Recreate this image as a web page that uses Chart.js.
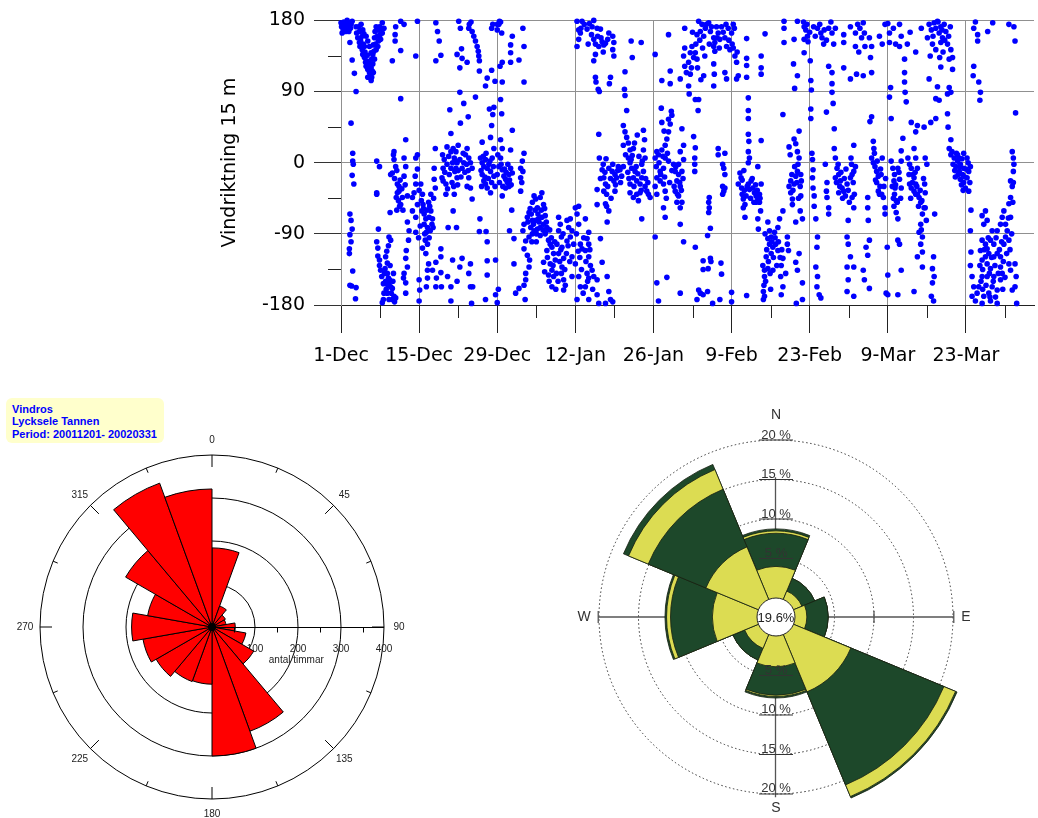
<!DOCTYPE html>
<html><head><meta charset="utf-8">
<script src="https://cdn.jsdelivr.net/npm/chart.js@4/dist/chart.umd.min.js"></script>
<style>
html,body{margin:0;padding:0;background:#fff;width:1038px;height:818px;overflow:hidden;}
.box{position:absolute;}
#info{position:absolute;left:6px;top:398px;width:152px;height:40px;padding:5px 0 0 6px;background:#ffffcc;border-radius:6px;font:bold 11px "Liberation Sans",Arial,sans-serif;line-height:12.4px;color:#0000ff;white-space:nowrap;}
</style></head><body>
<div class="box" style="left:0;top:0;width:1038px;height:390px"><canvas id="scatter"></canvas></div>
<div class="box" style="left:0;top:390px;width:432px;height:428px"><canvas id="rose"></canvas></div>
<div class="box" style="left:560px;top:400px;width:440px;height:418px"><canvas id="rose2"></canvas></div>
<div id="info">Vindros<br>Lycksele Tannen<br>Period: 20011201- 20020331</div>
<script>
// ---------- Top chart: wind direction time series (x = days after 1-Dec) ----------
const dateLabels = ['1-Dec','15-Dec','29-Dec','12-Jan','26-Jan','9-Feb','23-Feb','9-Mar','23-Mar'];
const dateTickDays = [0,14,28,42,56,70,84,98,112];
const minorTickDays = [7,21,35,49,63,77,91,105,119];
const dirTicks = [-180,-90,0,90,180];
const dirMinorTicks = [-135,-45,45,135];

const obsDec = [
[0,177],[0.3,175],[0.6,170],[0.9,177],[1.2,173],[1.5,177],[0.2,164],[0.8,166],[1.4,166],[1.8,175],[2.0,179],
[2.7,172],[2.8,164],[3.0,158],[3.3,152],[3.4,147],[3.8,143],[3.9,137],[4.2,133],[4.4,127],[4.5,122],[4.8,118],[5.1,114],[4.8,108],[5.4,104],[5.1,120],[4.6,129],[4.2,147],[3.8,160],[3.3,166],[3.2,172],[3.9,168],[4.5,160],[4.8,154],[5.1,147],[5.4,139],[5.5,131],[5.7,125],[5.4,120],[5.8,149],[6.0,158],[6.1,166],[6.3,172],[6.6,168],[6.9,172],[7.0,162],[6.7,154],[6.6,147],[7.4,177],[7.7,170],[7.4,164],[7.1,156],[6.3,143],[5.7,137],[6.0,131],[5.8,114],[5.5,108],
[1.6,152],[2.0,130],[2.4,113],[2.7,90],[1.8,50],[2.1,12],[2.1,2],[2.2,-2],[2.0,-16],[2.3,-27],
[1.6,-65],[1.8,-73],[2.0,-84],[1.6,-91],[1.8,-100],[1.5,-109],[1.5,-115],[2.1,-137],[1.6,-155],[1.9,-156],[2.7,-158],[2.6,-172],
[6.4,2],[6.9,-5],[6.4,-38],[6.4,-40],[6.7,-84],[6.4,-100],[6.6,-108],[6.6,-118],[6.9,-123],[6.9,-130],[7.1,-136],[7.3,-144],[7.6,-153],[7.7,-165],[7.6,-173],[7.4,-177],
[8.0,-119],[8.3,-127],[7.9,-134],[8.3,-140],[8.5,-146],[8.0,-150],[8.6,-153],[8.9,-157],[9.2,-159],[9.5,-169],[9.2,-173],[9.8,-171],[8.3,-165],[8.6,-173],[8.5,-105],[8.6,-94],[8.9,-98],[8.8,-63],
[8.9,-15],[9.2,-13],[9.5,14],[9.4,10],[9.5,4],[9.8,-5],[10.1,-27],[10.4,-30],[10.1,-38],[9.9,-44],[10.3,-48],[10.7,-53],[10.4,-36],[11.0,-44],[11.3,-17],[11.3,6],[11.6,29],[11.6,-5],[11.9,-42],[10.7,81],[9.2,129],[9.7,154],[9.7,162],[9.8,172],[10.7,179],[11.3,175],[10.7,142],
[11.9,-75],[12.2,-86],[12.1,-98],[11.7,-111],[11.6,-121],[11.9,-132],[11.3,-140],[11.6,-152],[11.2,-146],[11.6,-165],[12.8,-44],[13.1,-38],[12.8,-61],[13.4,-69],[13.4,-88],[13.7,-8],[13.4,6],[13.7,10],[13.4,-27],[13.3,-17],[13.7,-53],
[13.7,179],[13.4,135],[14.0,-148],[14.1,-161],[14.0,-175],
[14.3,-27],[14.6,-40],[14.7,-53],[14.5,-61],[14.9,-65],[15.2,-71],[14.9,-78],[15.5,-82],[15.3,-88],[15.1,-98],[15.5,-103],[15.2,-115],[16.1,-40],[15.9,-55],[16.1,-61],[16.4,-71],[16.3,-78],[15.8,-69],[16.5,-82],[15.7,-128],[15.5,-136],[16.4,-136],[15.5,-146],[15.3,-157],[16.9,-32],[16.7,-21],[16.7,-7],[16.9,18],[17.0,129],[17.0,177],[17.3,166],[17.6,154],[17.9,136],[17.0,-126],[17.1,-146],[17.0,-157],[17.9,-109],[17.9,-119],[17.9,-139],[18.0,-157],
[18.2,10],[18.5,4],[18.3,-7],[18.1,-19],[18.3,-23],[18.8,-27],[19.1,-33],[18.8,-40],[19.4,-15],[19.7,-7],[20.0,0],[20.3,6],[19.7,14],[20.1,18],[19.7,37],[19.5,67],[19.2,-82],[19.1,-144],[19.7,-157],[19.7,-175],[20.0,-123],[20.1,-61],[20.4,-11],[20.7,-82],[20.3,-40],[20.8,-19],[20.6,-7],[20.8,0],[21.3,4],[20.6,14],[21.0,22],[21.4,50],[21.3,89],[21.4,170],[21.1,179],[21.6,144],[21.3,120],[20.8,137],[21.7,132],[22.0,75],
[21.7,-7],[22.0,0],[22.3,10],[22.6,18],[22.9,6],[23.2,0],[23.5,-7],[22.9,-19],[22.6,-30],[23.2,-32],[21.7,-121],[21.3,-132],[20.8,-150],[22.8,58],[22.6,127],[22.9,170],[23.5,166],[23.8,160],[24.1,154],[24.4,147],[24.6,141],[24.1,83],[23.2,-128],[22.9,-140],[23.2,-157],[23.6,-157],[23.4,-178],[23.5,-46],
[25.0,6],[25.3,0],[25.6,-5],[25.9,4],[26.2,-7],[26.5,-2],[26.8,-11],[25.3,-15],[25.6,-23],[25.9,-27],[25.2,-30],[26.2,-32],[26.8,-38],[27.4,-17],[27.1,6],[27.4,18],[26.8,32],[25.3,26],[27.0,47],[26.6,68],[27.4,70],[27.2,61],[27.6,103],[27.0,117],[26.2,107],[25.9,97],[24.8,129],[24.8,116],[27.0,170],[28.0,175],[28.4,179],[24.9,-71],[24.8,-87],[26.0,-87],[26.2,-100],[26.2,-124],[26.2,-142],[25.9,-173],[27.7,-123],[28.2,-160],[28.0,-177],[27.7,-167],
[28.3,-5],[28.9,-9],[29.2,-17],[29.5,-21],[29.8,-25],[30.1,-15],[30.4,-7],[30.7,-13],[30.1,-30],[29.5,-32],[28.9,-42],[28.6,6],[28.9,18],[28.6,29],[30.4,16],[30.7,41],[28.8,62],[28.6,80],[28.9,102],[28.5,122],[28.9,127],[30.4,127],[30.4,139],[30.7,160],[28.8,164],[28.3,175],[30.4,149],[30.6,-60],[30.2,-86],[31.0,-96],[31.0,-128],[31.3,-165],
[0.1,172],[0.5,178],[0.7,174],[1.0,170],[1.3,176],[1.7,170],[0.4,168],[1.1,180],
[3.5,155],[4.0,150],[4.3,140],[4.7,136],[5.0,126],[5.2,110],[5.6,116],[6.2,150],[6.5,160],[7.2,170],[5.9,141],[4.1,163],[3.6,175],
[7.8,-140],[8.1,-160],[8.4,-155],[8.7,-148],[9.0,-165],[9.3,-150],[9.6,-176],[8.2,-112],[8.8,-130],[9.4,-140],
[9.6,-20],[10.0,-10],[10.6,-22],[10.9,-33],[11.1,-60],[10.5,-55],[10.0,-60],[11.5,-28],
[14.0,-35],[14.4,-48],[14.8,-58],[15.0,-90],[15.4,-60],[15.7,-50],[16.0,-86],[16.6,-45],[14.2,-80],[13.9,-95],[14.6,-108],[15.8,-95],
[18.6,-12],[19.0,-2],[19.3,8],[19.9,-25],[20.2,-30],[20.5,2],[21.0,-10],[21.5,-18],[21.9,12],[22.2,-12],[22.5,-2],[22.8,-10],[19.0,20],[20.9,-28],
[25.1,-10],[25.5,8],[25.8,-18],[26.0,12],[26.4,-20],[26.7,2],[27.0,-25],[27.3,-5],[27.6,-30],[28.0,-15],[28.4,-25],[28.7,-2],[29.0,-30],[29.3,-8],[29.6,-12],[29.9,-2],[30.2,-22],[30.5,-28],[28.1,10],
[23.0,175],[23.3,178],[24.7,135],[27.2,175],[28.6,178],[28.0,168]
];
const obsJan = [
[32.6,170],[32.8,147],[32.8,102],[31.9,130],
[32.2,-7],[32.5,2],[32.6,-11],[32.2,-19],[32.4,-25],[32.2,-36],[32.8,12],[32.8,-78],[32.6,-86],
[34.6,-42],[34.9,-46],[34.3,-50],[36.0,-38],[35.7,-44],[36.3,-53],[35.2,-57],[33.7,-63],[33.4,-69],[34.3,-73],[34.9,-73],[35.4,-71],[36.0,-69],[36.6,-67],[36.3,-78],[34.0,-82],[34.6,-86],[35.2,-84],[35.7,-82],[36.9,-82],[33.7,-94],[34.3,-90],[35.7,-92],[36.6,-88],[33.1,-99],[32.8,-109],[33.4,-117],[33.8,-123],[33.7,-132],[33.1,-140],[33.1,-148],[32.8,-155],[31.9,-159],[33.0,-173],
[36.6,-90],[37.2,-98],[37.5,-103],[36.9,-111],[37.8,-107],[38.1,-115],[38.4,-123],[37.5,-128],[37.8,-136],[37.2,-142],[38.1,-144],[37.8,-157],[39.0,-69],[39.3,-78],[39.0,-86],[39.5,-94],[38.7,-103],[39.6,-107],[39.0,-115],[39.9,-121],[39.6,-132],[39.5,-140],[39.9,-148],[40.2,-155],[39.9,-161],[36.5,-138],[36.3,-126],
[40.5,-73],[41.1,-71],[40.8,-82],[41.4,-86],[41.1,-94],[40.5,-99],[41.7,-103],[41.4,-119],[42.0,-57],[42.6,-55],[42.3,-65],[42.6,-78],[42.9,-103],[43.2,-109],[42.0,-128],[41.4,-144],[42.6,-144],[42.9,-157],[42.3,-173],[43.8,-71],[44.4,-88],[44.1,-96],[44.4,-103],[43.8,-111],[44.4,-119],[44.7,-130],[44.1,-140],[44.4,-146],[43.8,-157],[44.4,-173],[45.0,-136],[45.3,-144],[45.9,-148],[45.9,-167],[46.2,-178],[46.8,-126],[46.5,-96],[47.7,-144],[48.0,-163],[48.3,-173],[47.4,-178],[48.7,-176],
[42.3,179],[43.2,179],[45.3,180],[42.9,164],[44.1,169],[44.9,162],[45.3,156],[45.6,150],[46.2,147],[45.9,170],[46.5,169],[46.8,153],[47.1,149],[45.6,137],[45.3,129],[47.4,151],[48.0,164],[48.7,160],[48.9,152],[48.7,143],[48.9,135],[42.3,147],[42.6,156],
[45.6,108],[45.7,102],[46.1,93],[46.3,90],[48.3,108],[48.1,100],
[46.2,36],[46.3,6],[47.5,5],[45.9,-34],[45.9,-53],[46.8,-9],[47.1,-19],[47.4,-27],[47.1,-36],[47.6,-40],[47.4,-52],[48.0,-7],[48.6,-11],[49.1,-15],[48.9,-23],[49.4,-19],[49.7,-5],[50.0,-9],[50.3,-17],[49.1,-36],[48.0,-61],[47.7,-75],[50.6,-5],
[50.8,93],[50.9,85],[51.2,66],[50.6,47],[50.9,39],[51.2,32],[51.5,25],[50.6,22],[51.8,16],[52.4,18],[52.2,9],[51.5,6],[51.8,0],[52.1,-7],[52.7,-11],[52.4,-19],[53.0,-23],[53.6,-27],[53.9,-19],[54.2,-11],[53.9,-2],[54.5,6],[54.2,16],[54.4,29],[54.2,41],[51.8,-27],[51.8,-38],[52.4,-44],[53.0,-40],[53.3,-48],[53.6,-38],[54.5,-30],[54.8,-36],[55.1,-40],[55.4,-44],[53.9,-71],[52.0,154],[53.8,152],[52.2,133],[50.9,115],
[56.3,6],[56.6,14],[56.9,10],[57.5,16],[58.1,22],[58.4,30],[58.7,39],[59.0,49],[59.3,60],[58.7,55],[57.5,51],[57.4,69],[59.2,65],[58.1,6],[58.7,2],[59.6,-2],[57.8,-7],[57.2,-11],[56.6,-19],[57.2,-23],[57.8,-27],[58.1,-36],[56.3,-30],[56.6,-40],[57.8,-57],[58.1,-69],[59.9,-11],[60.5,-15],[60.2,-23],[60.8,-30],[59.9,-36],[60.5,-42],[60.2,-50],[60.8,-57],[61.1,-50],[61.4,22],[61.1,43],[60.8,14],[61.4,4],[60.5,-2],[61.1,-11],[60.8,-78],[61.4,-100],[56.3,-94],[56.6,-152],[56.9,-175],[58.4,-145],[60.8,-165],[56.3,137],[57.5,104],[59.0,100],[59.0,116],[58.7,162],[61.6,170],[61.6,145],[61.4,135],[61.6,122],[60.8,106],[61.9,114],
[33.5,-75],[33.9,-58],[34.1,-65],[34.5,-78],[34.8,-60],[35.0,-90],[35.3,-65],[35.5,-75],[35.9,-60],[36.2,-85],[36.5,-58],[36.8,-75],[34.2,-100],[35.0,-100],
[37.0,-120],[37.4,-85],[37.7,-95],[38.0,-130],[38.3,-100],[38.6,-140],[38.9,-150],[39.2,-125],[39.4,-110],[39.8,-90],[40.1,-135],[40.4,-115],[40.7,-105],[41.0,-125],[37.3,-150],[38.5,-160],
[42.2,-90],[42.8,-120],[43.1,-135],[43.5,-95],[43.9,-125],[44.2,-150],[44.6,-110],[45.1,-160],[43.4,-165],[42.5,-112],
[43.6,175],[44.5,176],[45.0,172],[46.0,160],[46.6,158],[47.0,140],[47.8,156],[44.3,150],[43.0,170],[42.6,168],
[46.5,-20],[47.0,-2],[47.3,-12],[47.8,-30],[48.3,-20],[48.7,-2],[49.2,-28],[49.6,-10],[50.1,-25],[48.4,-45],[47.6,-55],
[51.0,10],[51.4,-12],[51.6,-20],[52.0,4],[52.5,-30],[52.9,-5],[53.2,-14],[53.4,8],[53.8,-35],[54.0,2],[54.6,-20],[55.0,-25],[52.6,25],[53.1,35],
[56.5,-5],[57.0,0],[57.3,-15],[57.7,8],[58.0,-18],[58.3,-45],[58.9,-25],[59.3,-10],[59.7,-30],[60.0,-5],[60.3,-40],[60.7,-25],[61.0,-35],[61.3,-20],[57.9,40],[58.5,12]
];
const obsFeb = [
[64.1,179],[64.7,175],[65.3,170],[64.4,166],[65.0,160],[63.8,162],[65.9,177],[66.2,166],[66.8,158],[67.0,152],[67.6,164],[68.2,172],[67.3,172],[66.8,147],[67.0,141],[67.9,156],[68.8,158],[69.1,147],[69.4,170],[70.0,164],[70.3,175],[69.7,143],[70.3,145],[70.6,135],[70.9,127],[71.2,110],[70.9,106],[68.8,114],[69.1,106],[66.8,125],[66.9,112],[66.8,97],[62.9,147],[62.6,139],[63.2,133],[62.3,127],[63.5,139],[63.8,131],[62.6,112],[62.3,97],[62.4,87],[63.5,80],[64.1,80],[64.0,66],[63.2,33],[63.5,19],[63.4,6],[63.4,-2],[63.4,-11],
[66.0,-44],[65.9,-50],[66.0,-57],[65.9,-63],[66.2,-83],[65.7,-92],[63.5,-107],[64.9,-124],[66.2,-121],[66.3,-125],[64.9,-135],[65.8,-134],[68.1,-127],[68.2,-141],[64.1,-161],[64.4,-165],[64.9,-167],[65.7,-163],[63.8,-173],[66.6,-178],[67.9,-173],[70.0,-176],[70.0,-164],[72.7,-168],
[67.6,18],[67.6,10],[68.8,12],[68.4,-2],[68.6,-7],[68.8,-15],[68.4,-30],[68.6,-36],[68.4,-40],[68.8,-32],
[71.5,-13],[71.7,-19],[71.2,-27],[71.8,-32],[71.9,-40],[72.1,-46],[72.4,-53],[72.1,-57],[72.4,-69],[73.0,-27],[73.5,-23],[73.2,-34],[73.8,-32],[74.1,-38],[74.4,-42],[74.7,-46],[75.0,-40],[75.0,-50],[74.4,-50],[75.3,-27],[75.2,-61],[74.7,-71],[74.8,-84],[73.0,0],[73.2,6],[73.0,14],[73.1,27],[73.0,36],[74.7,-5],[75.3,28],[73.0,56],[73.0,66],[73.0,82],[72.7,108],[72.7,123],[72.7,132],[72.7,157],[76.0,163],[75.3,135],[75.3,112],[75.3,120],
[76.5,-75],[76.8,-86],[77.1,-94],[77.7,-88],[78.3,-82],[78.6,-71],[77.9,-103],[77.4,-107],[76.8,-103],[76.5,-96],[78.3,-111],[77.1,-115],[76.2,-119],[75.6,-130],[75.9,-136],[76.5,-134],[77.4,-136],[75.9,-144],[75.8,-155],[75.7,-163],[75.9,-169],[75.7,-173],[79.2,-121],[78.9,-130],[78.8,-144],[79.2,-157],[78.9,-167],[79.7,-140],[80.0,-103],[80.0,-94],[80.2,-111],[79.2,-61],
[79.2,61],[80.3,20],[81.2,30],[81.5,24],[82.1,40],[81.8,14],[82.1,6],[81.9,-2],[81.8,-11],[81.5,-17],[81.2,-27],[80.6,-23],[80.3,-30],[80.6,-38],[80.9,-46],[80.9,-53],[82.4,-15],[82.5,-23],[82.4,-42],[82.3,-61],[82.7,-71],[81.5,-75],[81.5,-126],[81.8,-136],[82.1,-115],[82.7,-152],[82.7,-173],[81.6,-178],
[79.4,179],[79.4,170],[79.4,152],[81.8,179],[81.2,156],[81.1,125],[81.8,110],[81.3,94],[83.0,172],[83.3,168],[83.6,160],[83.0,156],[83.7,153],[83.0,139],[84.1,129],[84.2,104],[84.3,92],[84.2,68],[84.2,56],[85.4,170],[86.0,164],[86.2,158],[86.5,150],[87.4,170],[88.0,164],[87.4,122],[88.0,114],[88.0,100],[88.0,89],[88.2,75],[87.0,64],[90.1,162],[90.1,152],[91.3,172],[92.2,164],[92.2,147],[90.1,120],[91.3,106],[92.4,112],
[84.4,12],[84.5,4],[84.6,-9],[84.5,-19],[84.6,-32],[84.8,-42],[84.8,-55],[85.1,-71],[85.4,-94],[85.3,-107],[85.1,-132],[85.4,-144],[85.3,-157],[85.7,-167],[86.0,-171],[86.8,-2],[87.1,-25],[87.0,-36],[87.1,-44],[87.4,-57],[87.4,-65],[88.4,43],[88.4,18],[88.6,6],[88.9,-7],[89.2,-15],[88.6,-19],[89.5,-23],[89.8,-32],[90.1,-36],[90.4,-42],[89.2,-38],[90.7,-27],[91.3,-19],[91.6,-15],[91.9,-11],[92.2,-5],[91.4,6],[91.9,22],[91.6,-44],[91.9,-57],[90.9,-73],[90.7,-94],[90.9,-103],[91.3,-119],[90.7,-132],[91.9,-132],[90.9,-148],[91.9,-169],[90.7,-163],
[63.0,165],[63.6,150],[64.3,155],[64.8,145],[65.2,135],[65.5,175],[66.0,150],[66.4,172],[67.4,158],[67.8,145],[68.5,165],[69.0,175],[69.5,155],[70.1,150],[70.5,170],[71.0,140],[62.8,120],[63.9,120],[64.5,105],[65.0,110],
[71.9,-22],[72.3,-35],[72.6,-42],[72.8,-30],[73.4,-45],[73.7,-20],[74.0,-50],[74.3,-28],[74.6,-35],[75.1,-45],[72.2,-10],
[76.0,-90],[76.3,-110],[76.6,-125],[76.9,-140],[77.2,-100],[77.5,-120],[77.8,-95],[78.1,-130],[78.4,-100],[78.7,-120],[76.1,-150],[77.0,-160],[79.0,-110],
[80.8,-15],[81.0,-35],[81.3,-5],[81.7,-25],[82.0,-45],[82.3,-30],[80.5,10],
[82.9,178],[83.5,175],[84.0,165],[84.7,172],[85.0,160],[85.8,175],[86.6,168],[87.0,155],[87.8,178],[88.3,150],[88.6,170],
[88.8,-25],[89.1,-2],[89.4,-30],[89.6,-12],[89.9,-45],[90.2,-20],[90.5,-8],[90.9,-35],[91.1,-50],[91.5,-2],[91.8,-25],[92.0,-40]
];
const obsMar = [
[93.6,177],[93.8,164],[94.7,158],[95.1,147],[93.9,147],[94.9,133],[95.1,114],[93.6,110],
[95.1,58],[94.8,52],[95.4,27],[95.5,18],[95.1,6],[95.4,0],[95.7,-5],[96.0,-11],[96.3,-17],[96.0,-25],[96.6,-30],[96.3,-36],[96.9,-40],[97.2,-44],[97.5,-57],[97.5,-65],[97.0,6],[96.8,-15],[94.4,-44],[94.4,-57],[94.5,-73],[94.7,-98],[94.1,-107],[94.4,-117],[93.6,-136],[93.8,-148],[94.7,-159],[97.9,-107],[98.0,-142],[97.7,-165],[98.0,-167],[98.0,176],[98.3,164],[98.3,152],[98.5,95],[98.3,83],[98.6,56],
[98.6,2],[98.9,-7],[99.2,-15],[99.1,-23],[99.3,-32],[99.2,-40],[99.5,-48],[99.1,-55],[99.5,-63],[99.8,-71],[99.8,-98],[100.1,-103],[99.8,-7],[100.4,2],[100.1,-21],[100.4,-32],[100.1,175],[100.4,160],[100.1,147],[101.0,131],[101.0,114],[101.0,102],[101.1,89],[101.3,77],[100.7,31],[100.4,15],[100.4,-136],[99.8,-167],
[101.6,6],[101.9,-2],[102.2,-7],[102.5,-15],[102.7,-19],[102.2,-32],[102.7,-36],[101.9,-27],[103.0,-27],[103.3,-40],[103.6,-44],[103.9,-50],[104.5,-57],[104.2,-65],[103.9,-78],[103.6,-88],[104.2,-94],[103.9,-103],[104.2,-113],[103.3,-119],[104.2,-132],[103.0,-40],[103.0,6],[103.3,-7],[104.7,6],[105.0,-2],[104.6,-27],[104.7,-38],[104.7,-57],[104.9,-73],[106.4,-65],[102.7,18],[103.0,39],[103.3,47],[104.5,45],[105.7,51],[106.6,56],[102.2,51],[106.2,-119],[106.0,-134],[106.3,-144],[106.0,-152],[105.8,-169],[106.2,-175],[102.7,-163],
[105.4,175],[106.3,177],[106.9,179],[107.5,172],[108.1,175],[107.2,164],[107.8,158],[108.4,166],[107.5,152],[108.7,150],[109.3,143],[109.6,133],[109.0,131],[109.6,118],[106.6,143],[107.3,133],[107.5,121],[105.1,158],[105.6,135],[105.4,106],[106.9,96],[106.6,81],[107.2,79],[108.7,87],[109.0,95],[109.3,89],[108.7,62],[108.8,45],[109.3,29],
[109.0,18],[109.3,10],[109.9,6],[110.5,2],[111.0,-2],[111.6,-7],[110.2,-5],[110.8,-11],[111.4,-15],[111.0,-21],[111.6,-25],[112.2,-19],[112.5,-11],[112.8,-5],[112.2,6],[111.6,12],[110.8,6],[110.5,10],[111.9,-32],[112.5,-36],[112.9,-60],[112.8,-86],[112.9,-113],[112.8,-130],[113.1,-144],[113.4,-157],[113.1,-169],[113.7,-175],[113.3,110],[113.4,122],[114.3,102],[114.6,89],[114.5,79],[114.1,154],[114.1,162],[113.4,170],[113.7,178],[115.9,166],[116.8,177],[119.7,175],[120.6,172],[120.8,154],[120.9,63],
[114.9,-67],[115.5,-61],[115.8,-73],[115.2,-78],[114.9,-98],[115.5,-103],[114.6,-111],[115.8,-109],[116.4,-98],[117.0,-103],[116.7,-86],[117.6,-86],[118.2,-78],[118.5,-69],[118.8,-61],[119.1,-78],[119.4,-86],[119.1,-94],[119.7,-98],[118.8,-103],[120.0,-69],[119.7,-52],[120.0,-44],[120.3,-30],[120.5,-25],[116.1,-115],[115.5,-119],[114.9,-123],[115.8,-128],[117.0,-119],[117.6,-115],[118.2,-119],[116.4,-134],[115.8,-144],[114.9,-144],[117.0,-144],[116.7,-157],[116.1,-165],[115.2,-169],[114.0,-165],[114.3,-157],[114.9,-178],[116.4,-175],[117.6,-178],[117.6,-161],[118.2,-148],[118.5,-140],[118.2,-132],[119.7,-128],[120.0,-136],[120.8,-128],[121.0,-144],[120.8,-157],[120.3,-161],[121.1,-178],[120.3,14],[120.5,6],[120.6,-2],[120.5,-11],[120.0,-23],
[92.6,175],[93.0,170],[93.3,158],[92.8,140],[95.8,-22],[96.1,2],[96.5,-40],[96.7,-8],[97.3,-30],[97.6,-20],[95.6,12],
[98.8,-30],[99.0,-45],[99.4,-28],[99.7,-50],[100.0,-12],[100.3,-45],[101.8,-15],[102.1,-45],[102.4,-25],[102.9,-12],[103.2,-30],[103.5,-55],[103.8,-35],[104.1,-48],[104.4,-20],[104.0,-85],
[105.8,168],[106.1,160],[106.6,170],[107.0,178],[107.7,168],[108.2,155],[108.9,160],[109.2,172],[106.0,150],[107.9,140],
[109.5,14],[109.7,-2],[110.0,-10],[110.3,12],[110.6,-15],[110.9,-5],[111.2,-28],[111.3,5],[111.8,-18],[112.0,-8],[112.4,0],[112.7,-25],[111.5,-35],[110.1,-18],
[114.5,-130],[114.7,-150],[115.0,-135],[115.3,-110],[115.6,-155],[116.0,-95],[116.2,-140],[116.6,-120],[116.9,-150],[117.2,-130],[117.4,-95],[117.8,-140],[118.0,-110],[118.4,-100],[118.7,-125],[119.0,-145],[119.3,-115],[119.6,-70],[119.9,-110],[120.2,-90],[120.4,-50],[115.0,-160],[116.3,-170],[117.3,-170],[118.6,-160],
[96.5,160],[97.0,150],[97.5,175],[99.0,170],[99.4,150],[102.0,165],[103.0,140],[104.0,170],[101.5,150]
];

// ---------- Bottom-left: wind rose, hours per 20° sector ----------
const roseSectors = ['0-20','20-40','40-60','60-80','80-100','100-120','120-140','140-160','160-180','180-200','200-220','220-240','240-260','260-280','280-300','300-320','320-340','340-360'];
const roseHours = [184,52,36,33,54,80,112,258,300,133,135,150,163,187,152,232,356,321];
const roseRings = [100,200,300,400];
const roseAngleLabels = ['0','45','90','135','180','225','270','315'];
const roseAxisTitle = 'antal timmar';

// ---------- Bottom-right: wind rose, % per 45° sector and speed class ----------
const windDirs = ['N','NE','E','SE','S','SW','W','NW'];
const class1Pct = [4.0,1.15,1.5,7.85,3.9,1.9,5.65,7.2];
const class2Pct = [4.2,1.75,2.7,12.75,3.6,1.6,5.3,7.9];
const class3Pct = [0.3,0,0,1.6,0.15,0,0.5,2.7];
const class4Pct = [0.25,0,0,0.2,0.2,0,0.2,0.7];
const calmLabel = '19.6%';
const ringPcts = [5,10,15,20];
const compassLabels = ['N','E','S','W'];

// ================= Top scatter =================
const FONT = 'DejaVu Sans';
const minorTicksPlugin = {
  id:'minorTicks',
  afterDraw(chart){
    const {ctx, chartArea:a, scales:{x,y}} = chart;
    ctx.save(); ctx.strokeStyle='#222'; ctx.lineWidth=1;
    minorTickDays.forEach(d=>{
      const px = Math.round(x.getPixelForValue(d))+0.5;
      if (px > a.right) return;
      ctx.beginPath(); ctx.moveTo(px,a.bottom); ctx.lineTo(px,a.bottom+13); ctx.stroke();
    });
    dirMinorTicks.forEach(v=>{
      const py = Math.round(y.getPixelForValue(v))+0.5;
      ctx.beginPath(); ctx.moveTo(a.left-13,py); ctx.lineTo(a.left,py); ctx.stroke();
    });
    ctx.restore();
  }
};
const allObs = obsDec.concat(obsJan, obsFeb, obsMar).map(p=>({x:p[0], y:p[1]}));
new Chart(document.getElementById('scatter'), {
  type:'scatter',
  data:{datasets:[{data:allObs, pointRadius:2.8, pointBackgroundColor:'#0000ff', pointBorderWidth:0, borderWidth:0, clip:false}]},
  options:{
    responsive:true, maintainAspectRatio:false, animation:false, events:[],
    layout:{padding:{left:215, top:17, right:0, bottom:0}},
    plugins:{legend:{display:false}, tooltip:{enabled:false}},
    scales:{
      x:{type:'linear', min:0, max:124.2,
        afterBuildTicks:s=>{s.ticks = dateTickDays.map(v=>({value:v}));},
        afterFit:s=>{s.height = 85;},
        grid:{color:'#909090', tickColor:'#222', tickLength:28, lineWidth:1},
        border:{color:'#222', width:1},
        ticks:{autoSkip:false, maxRotation:0, padding:12, color:'#000', font:{family:FONT, size:19},
          callback:(v)=>dateLabels[dateTickDays.indexOf(v)]}},
      y:{type:'linear', min:-180, max:180,
        afterBuildTicks:s=>{s.ticks = dirTicks.map(v=>({value:v}));},
        afterFit:s=>{s.width = 126;},
        grid:{color:'#909090', tickColor:'#333', tickLength:27, lineWidth:1},
        border:{color:'#909090', width:1},
        ticks:{padding:9, color:'#000', font:{family:FONT, size:19}},
        title:{display:true, text:'Vindriktning 15 m', color:'#000', font:{family:FONT, size:19}, padding:{top:4,bottom:4}}}
    }
  },
  plugins:[minorTicksPlugin]
});

// ================= Bottom-left rose =================
const roseDecor = {
  id:'roseDecor',
  beforeDatasetsDraw(chart){
    const {ctx} = chart; const s = chart.scales.r;
    const cx = s.xCenter, cy = s.yCenter, R = s.getDistanceFromCenterForValue(400);
    ctx.save();
    ctx.fillStyle='#222'; ctx.font='10px "Liberation Sans", Arial, sans-serif';
    ctx.textAlign='center'; ctx.textBaseline='middle';
    roseRings.forEach(v=>{ ctx.fillText(String(v), cx + s.getDistanceFromCenterForValue(v), cy + 22); });
    ctx.fillText(roseAxisTitle, cx + s.getDistanceFromCenterForValue(196), cy + 33.5);
    roseAngleLabels.forEach((t,i)=>{
      const a = i*Math.PI/4; const rr = R + 15;
      ctx.fillText(t, cx + rr*Math.sin(a), cy - rr*Math.cos(a));
    });
    ctx.strokeStyle='#000'; ctx.lineWidth=1;
    for (let k=0;k<16;k++){
      const a = k*Math.PI/8; const len = (k%2===0)?12:5;
      ctx.beginPath();
      ctx.moveTo(cx + R*Math.sin(a), cy - R*Math.cos(a));
      ctx.lineTo(cx + (R-len)*Math.sin(a), cy - (R-len)*Math.cos(a));
      ctx.stroke();
    }
    ctx.restore();
  },
  afterDatasetsDraw(chart){
    const {ctx} = chart; const s = chart.scales.r;
    const cx = s.xCenter, cy = s.yCenter, R = s.getDistanceFromCenterForValue(400);
    ctx.save(); ctx.strokeStyle='#000'; ctx.lineWidth=1.2;
    ctx.beginPath(); ctx.moveTo(cx, cy+0.5); ctx.lineTo(cx+R, cy+0.5); ctx.stroke();
    ctx.lineWidth=1;
    [50,150,250,350].forEach(v=>{
      const px = Math.round(cx + s.getDistanceFromCenterForValue(v))+0.5;
      ctx.beginPath(); ctx.moveTo(px, cy); ctx.lineTo(px, cy+5.5); ctx.stroke();
    });
    ctx.fillStyle='#000'; ctx.beginPath(); ctx.arc(cx, cy, 4, 0, Math.PI*2); ctx.fill();
    ctx.restore();
  }
};
new Chart(document.getElementById('rose'), {
  type:'polarArea',
  data:{labels:roseSectors, datasets:[{data:roseHours, backgroundColor:'#ff0000', borderColor:'#000', borderWidth:1}]},
  options:{
    responsive:true, maintainAspectRatio:false, animation:false, events:[],
    layout:{padding:{left:40, right:48, top:65, bottom:19}},
    plugins:{legend:{display:false}, tooltip:{enabled:false}},
    scales:{r:{min:0, max:400, startAngle:0,
      ticks:{display:false, stepSize:100},
      grid:{color:'#000', lineWidth:1},
      angleLines:{display:false}, pointLabels:{display:false}}}
  },
  plugins:[roseDecor]
});

// ================= Bottom-right rose =================
const cum1 = class1Pct.slice();
const cum2 = cum1.map((v,i)=>v+class2Pct[i]);
const cum3 = cum2.map((v,i)=>v+class3Pct[i]);
const cum4 = cum3.map((v,i)=>v+class4Pct[i]);
const YEL = '#dcdc52', GRN = '#1d482a', EDGE = 'rgba(25,35,20,0.85)';
const rose2Decor = {
  id:'rose2Decor',
  beforeDatasetsDraw(chart){
    const {ctx} = chart; const s = chart.scales.r;
    const cx = s.xCenter, cy = s.yCenter;
    const r = v => s.getDistanceFromCenterForValue(v);
    ctx.save(); ctx.strokeStyle='#555'; ctx.lineWidth=1.3;
    ctx.beginPath(); ctx.moveTo(cx-0.5, cy - r(15.3)); ctx.lineTo(cx-0.5, cy + r(20.4)); ctx.stroke();
    ctx.beginPath(); ctx.moveTo(cx - r(20.1), cy); ctx.lineTo(cx + r(20.1), cy); ctx.stroke();
    [-1,1].forEach(sg=>{
      [10,20.1].forEach(p=>{
        const px = cx + sg*r(p);
        ctx.beginPath(); ctx.moveTo(px, cy-6); ctx.lineTo(px, cy+6); ctx.stroke();
      });
    });
    ctx.restore();
  },
  afterDatasetsDraw(chart){
    const {ctx} = chart; const s = chart.scales.r;
    const cx = s.xCenter, cy = s.yCenter;
    const r = v => s.getDistanceFromCenterForValue(v);
    ctx.save();
    ctx.fillStyle='#fff'; ctx.strokeStyle='#222'; ctx.lineWidth=1;
    ctx.beginPath(); ctx.arc(cx, cy, r(0), 0, Math.PI*2); ctx.fill(); ctx.stroke();
    ctx.fillStyle='#222'; ctx.font='13px "Liberation Sans", Arial, sans-serif';
    ctx.textAlign='center'; ctx.textBaseline='middle';
    ctx.fillText(calmLabel, cx, cy+1);
    ctx.textBaseline='alphabetic'; ctx.fillStyle='#333';
    ringPcts.forEach(p=>{
      [-1,1].forEach(sg=>{
        const yy = cy + sg*r(p);
        ctx.fillText(p+' %', cx, yy-1.5);
        ctx.strokeStyle='#333'; ctx.lineWidth=1;
        ctx.beginPath(); ctx.moveTo(cx-17, yy); ctx.lineTo(cx+17, yy); ctx.stroke();
      });
    });
    ctx.font='14px "Liberation Sans", Arial, sans-serif'; ctx.textBaseline='middle'; ctx.fillStyle='#333';
    const R = r(20);
    ctx.fillText(compassLabels[0], cx, cy - R - 25);
    ctx.fillText(compassLabels[1], cx + R + 13, cy);
    ctx.fillText(compassLabels[2], cx, cy + R + 14);
    ctx.fillText(compassLabels[3], cx - R - 15, cy);
    ctx.restore();
  }
};
new Chart(document.getElementById('rose2'), {
  type:'polarArea',
  data:{labels:windDirs, datasets:[
    {data:cum1, backgroundColor:YEL, borderColor:EDGE, borderWidth:1},
    {data:cum2, backgroundColor:GRN, borderColor:EDGE, borderWidth:1},
    {data:cum3, backgroundColor:YEL, borderColor:EDGE, borderWidth:1},
    {data:cum4, backgroundColor:GRN, borderColor:EDGE, borderWidth:1}
  ]},
  options:{
    responsive:true, maintainAspectRatio:false, animation:false, events:[],
    layout:{padding:{left:18, right:26, top:19, bottom:3}},
    plugins:{legend:{display:false}, tooltip:{enabled:false}},
    scales:{r:{min:-2.405, max:22.66, startAngle:-22.5, beginAtZero:false,
      afterBuildTicks:s=>{s.ticks = ringPcts.map(v=>({value:v}));},
      ticks:{display:false},
      grid:{color:'#333', lineWidth:1},
      border:{dash:[1.5,2.5]},
      angleLines:{display:false}, pointLabels:{display:false}}}
  },
  plugins:[rose2Decor]
});
</script>
</body></html>
